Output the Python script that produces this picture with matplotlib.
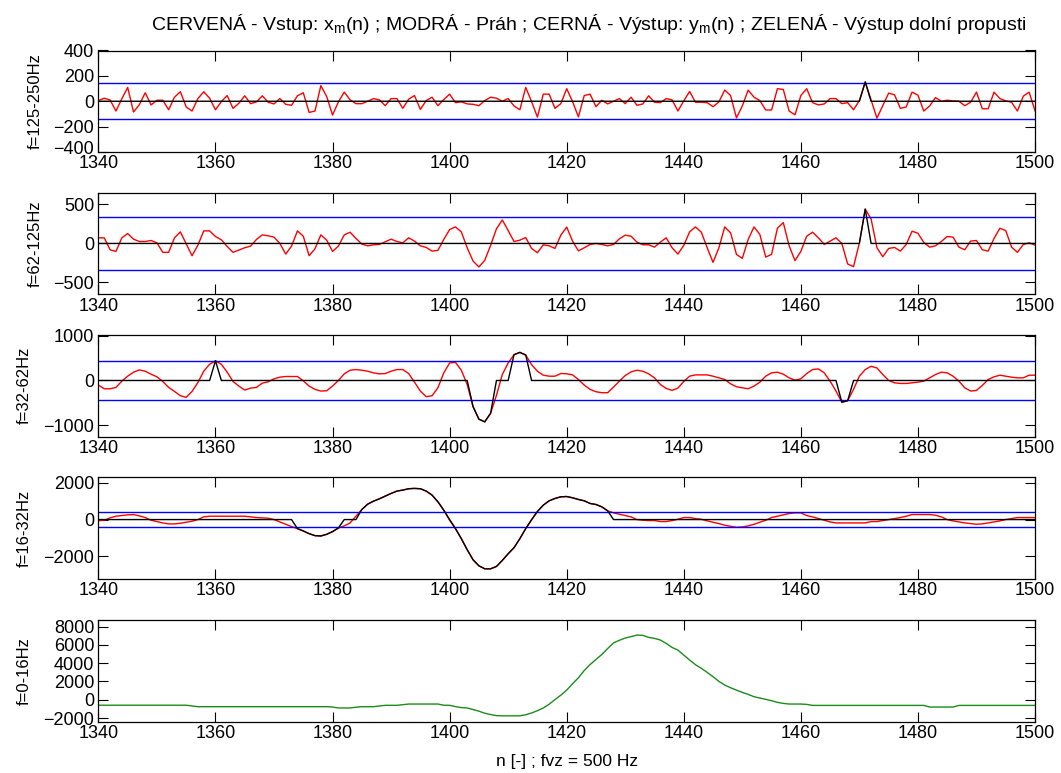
import numpy as np
import matplotlib
matplotlib.use('Agg')
import matplotlib.pyplot as plt
from matplotlib.transforms import ScaledTranslation

plt.rcParams['font.family'] = ['Liberation Sans', 'DejaVu Sans']
plt.rcParams['mathtext.default'] = 'regular'

# %% data, n = 1340..1500
n = np.arange(1340, 1501)

sig1 = [5, 24, 10, -77, 19, 109, -85, -27, 67, -29,
        8, 8, -67, 32, 75, -45, -77, 21, 75, 24,
        -67, -3, 45, -56, -16, 43, -19, -5, 43, -8,
        -21, 21, -24, -32, 43, 67, -88, -77, 123, 37,
        -109, -5, 72, 11, -19, -19, 0, 21, 11, -35,
        21, 21, -56, 16, 45, -64, 5, 32, -35, 13,
        56, -11, -5, -21, -24, -35, 5, 32, 24, 0,
        21, -37, -67, 109, -3, -125, 56, 56, -56, -19,
        99, -3, -123, 45, 56, -43, 8, -21, 0, 21,
        -19, 32, -32, -21, 43, -8, -11, 21, 11, -77,
        3, 77, -8, -8, -11, -43, -5, 88, 45, -131,
        -37, 88, 32, 5, -69, -69, 99, 93, -77, -107,
        45, 99, -11, -29, -21, 21, 21, -19, -11, -67,
        5, 152, 10, -133, -35, 64, 51, -56, -45, 72,
        48, -77, -37, 29, 0, 8, 3, 0, -35, -8,
        72, -59, -59, 72, 21, 3, -8, -77, 40, 72,
        -75]

sig2 = [72, 72, -81, -102, 72, 127, 55, 25, 25, 38,
        8, -114, -114, 72, 148, -4, -157, -21, 161, 161,
        89, 47, -38, -114, -85, -55, -34, 51, 110, 98,
        81, 0, -136, -34, 161, 93, -157, -68, 110, 42,
        -102, -34, 110, 144, 64, -8, -30, -17, -13, 21,
        55, 25, 8, 72, 30, -30, -51, -98, -89, 51,
        178, 212, 148, -55, -225, -301, -216, -25, 187, 301,
        165, 25, 42, 76, -64, -119, -17, -30, -64, 106,
        210, 30, -95, -55, -13, 0, -13, -30, -13, 59,
        106, 93, 17, -17, -17, -47, 17, 72, -55, -136,
        -25, 148, 212, 144, -55, -242, -55, 212, 136, -140,
        -191, 51, 212, 114, -174, -140, 195, 267, -30, -220,
        -102, 93, 144, 72, -13, 30, 72, 0, -263, -297,
        8, 440, 314, -55, -170, -64, -51, -98, -13, 157,
        131, 13, -47, -30, 25, 89, 81, -47, -81, 30,
        38, -81, -98, 64, 195, 165, -47, -114, -13, 8,
        -21]

sig3 = [-103, -185, -185, -155, -15, 96, 185, 236, 207, 140,
        81, -22, -155, -244, -340, -376, -244, -44, 207, 362,
        440, 362, 185, -22, -125, -214, -170, -155, -59, -30,
        37, 74, 89, 89, 89, -7, -125, -199, -236, -229,
        -125, 0, 148, 229, 244, 229, 207, 170, 148, 155,
        207, 244, 244, 155, -37, -236, -362, -340, -162, 170,
        391, 405, 229, -89, -583, -863, -923, -731, -332, 133,
        391, 576, 627, 568, 354, 207, 118, 96, 96, 155,
        150, 125, 22, -103, -199, -251, -273, -273, -148, -15,
        111, 192, 229, 207, 148, 59, -89, -177, -221, -170,
        -22, 96, 125, 125, 125, 96, 59, 22, -74, -140,
        -162, -185, -125, -37, 96, 170, 185, 140, 59, 7,
        37, 155, 244, 258, 170, -15, -236, -485, -450, -199,
        96, 244, 317, 280, 133, 0, -52, -66, -66, -52,
        -37, -15, 59, 133, 185, 170, 96, -15, -162, -236,
        -221, -111, 22, 81, 118, 96, 74, 59, 59, 118,
        118]

sig4 = [-55, -36, 91, 182, 218, 255, 273, 200, 109, -36,
        -109, -182, -236, -236, -200, -145, -91, 0, 145, 182,
        182, 182, 182, 182, 182, 182, 145, 109, 91, 73,
        0, -127, -255, -382, -491, -618, -764, -873, -891, -800,
        -655, -455, -345, -182, 182, 545, 836, 1000, 1127, 1273,
        1418, 1545, 1600, 1673, 1691, 1673, 1545, 1327, 964, 509,
        -36, -491, -1036, -1636, -2182, -2509, -2673, -2673, -2545, -2218,
        -1855, -1527, -1036, -491, -30, 440, 782, 1018, 1145, 1236,
        1250, 1182, 1091, 1018, 873, 818, 691, 473, 364, 291,
        218, 145, 0, -36, -55, -55, -109, -109, -55, 18,
        109, 109, 55, 18, -73, -145, -218, -309, -364, -418,
        -400, -345, -255, -145, -36, 109, 182, 255, 327, 364,
        364, 218, 145, 55, -36, -127, -182, -182, -182, -182,
        -182, -182, -109, -109, -55, 0, 55, 109, 182, 273,
        273, 273, 273, 236, 145, 0, -73, -127, -182, -218,
        -255, -236, -182, -127, -73, 0, 55, 109, 109, 109,
        109]

lowpass = [-600] * 16 + [-680] + [-760] * 23 + [
    -800, -900, -900, -900, -820, -760, -760, -760, -680, -610,
    -610, -610, -540, -470, -470, -470, -470, -470, -470, -600,
    -610, -750, -860, -900, -1080, -1250, -1474, -1620, -1740, -1760,
    -1760, -1760, -1760, -1640, -1450, -1200, -900, -490, 20, 500,
    1050, 1750, 2400, 3200, 3850, 4400, 4950, 5600, 6220, 6500,
    6750, 6900, 7070, 7040, 6820, 6710, 6530, 6160, 5720, 5430,
    4880, 4340, 3830, 3430, 2990, 2520, 2010, 1600, 1310, 1060,
    800, 585, 330, 185, 40, -105, -290, -400, -470, -470,
    -470, -510] + [-620] * 20 + [-800] * 5 + [-620] * 14

# thresholds (blue lines)
prah = [140, 345, 425, 425]

ylabels = ['f=125-250Hz', 'f=62-125Hz', 'f=32-62Hz', 'f=16-32Hz', 'f=0-16Hz']
ylims = [(-400, 400), (-650, 650), (-1250, 1015), (-3215, 2294), (-2380, 8720)]
yticks = [[-400, -200, 0, 200, 400], [-500, 0, 500], [-1000, 0, 1000],
          [-2000, 0, 2000], [-2000, 0, 2000, 4000, 6000, 8000]]
xticks = list(range(1340, 1501, 20))

# %% figure
W, H = 1061, 773
fig = plt.figure(figsize=(W / 100, H / 100), dpi=100)
tops = [50.5, 192.7, 335, 477.3, 620]
h = 101.5
left, right = 98.4, 1035

signals = [sig1, sig2, sig3, sig4]
axes = []
for i in range(5):
    ax = fig.add_axes([left / W, 1 - (tops[i] + h) / H, (right - left) / W, h / H])
    axes.append(ax)
    if i < 4:
        s = np.array(signals[i], dtype=float)
        y = np.where(np.abs(s) > prah[i], s, 0)
        ax.plot(n, s, color='red', lw=1)
        ax.axhline(prah[i], color='blue', lw=1)
        ax.axhline(-prah[i], color='blue', lw=1)
        ax.plot(n, y, color='black', lw=1)
    else:
        ax.plot(n, lowpass, color=(0.1, 0.55, 0.1), lw=1)
    ax.set_xlim(1340, 1500)
    ax.set_ylim(*ylims[i])
    ax.set_xticks(xticks)
    ax.set_yticks(yticks[i])
    ax.tick_params(direction='in', length=7, width=0.8, top=True, right=True,
                   labelsize=13)
    ax.tick_params(axis='x', pad=2.5)
    ax.tick_params(axis='y', pad=3)
    ax.set_ylabel(ylabels[i], fontsize=12, labelpad=8)
    for sp in ax.spines.values():
        sp.set_linewidth(0.9)

# lift the bottom y label of the top panel a little so it clears "1340"
lab = axes[0].yaxis.get_major_ticks()[0].label1
lab.set_transform(lab.get_transform() + ScaledTranslation(0, 5 / 100, fig.dpi_scale_trans))

axes[0].set_title(r'CERVENÁ - Vstup: x$_{m}$(n) ; MODRÁ - Práh ; CERNÁ - Výstup: y$_{m}$(n) ; '
                  r'ZELENÁ - Výstup dolní propusti', fontsize=14, pad=15, x=0.523)
axes[4].set_xlabel('n [-] ; fvz = 500 Hz', fontsize=12.5, labelpad=9)

fig.savefig('out.png', dpi=100)
